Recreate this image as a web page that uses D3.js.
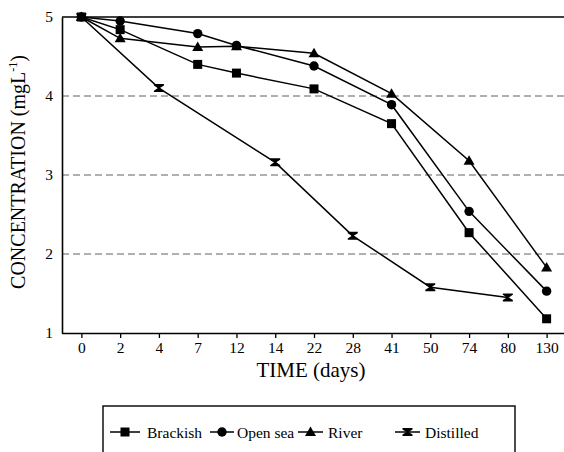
<!DOCTYPE html>
<html>
<head>
<meta charset="utf-8">
<script src="https://cdn.jsdelivr.net/npm/d3@7"></script>
<style>
  body { margin: 0; background: #fff; }
  svg { display: block; }
</style>
</head>
<body>
<svg id="chart" width="564" height="452"></svg>
<script>
// ---- data ----
const days = ["0", "2", "4", "7", "12", "14", "22", "28", "41", "50", "74", "80", "130"];
const yTicks = [1, 2, 3, 4, 5];
const gridValues = [2, 3, 4];
const seriesNames = ["Brackish", "Open sea", "River", "Distilled"];
// values aligned with days; null = not measured
const brackish  = [5.00, 4.84, null, 4.40, 4.29, null, 4.09, null, 3.65, null, 2.27, null, 1.18];
const openSea   = [5.00, 4.95, null, 4.79, 4.64, null, 4.38, null, 3.89, null, 2.54, null, 1.53];
const river     = [5.00, 4.73, null, 4.62, 4.63, null, 4.54, null, 4.03, null, 3.18, null, 1.83];
const distilled = [5.00, null, 4.10, null, null, 3.16, null, 2.23, null, 1.58, null, 1.45, null];
const xLabel = "TIME (days)";

const series = [
  { name: seriesNames[0], values: brackish,  shape: "square" },
  { name: seriesNames[1], values: openSea,   shape: "circle" },
  { name: seriesNames[2], values: river,     shape: "triangle" },
  { name: seriesNames[3], values: distilled, shape: "hourglass" }
];

// ---- layout ----
const FONT = "Liberation Serif, Times New Roman, serif";
const svg = d3.select("#chart");
const mLeft = 62, mRight = 566, mTop = 17, mBottom = 333;

const x = d3.scalePoint().domain(days).range([mLeft, mRight]).padding(0.5);
const y = d3.scaleLinear().domain([1, 5]).range([mBottom, mTop]);

// grid lines
svg.append("g").selectAll("line").data(gridValues).join("line")
  .attr("x1", mLeft).attr("x2", 564)
  .attr("y1", d => y(d)).attr("y2", d => y(d))
  .attr("stroke", "#606060").attr("stroke-width", 1)
  .attr("stroke-dasharray", "7,4");

// top frame line
svg.append("line")
  .attr("x1", mLeft).attr("x2", 564).attr("y1", y(5)).attr("y2", y(5))
  .attr("stroke", "#000").attr("stroke-width", 1.6);

// axes
const xAxis = svg.append("g").attr("transform", `translate(0,${mBottom})`)
  .call(d3.axisBottom(x).tickSize(5).tickPadding(4).tickSizeOuter(0))
  .attr("font-family", FONT).attr("font-size", 15.5);
xAxis.select(".domain").attr("d", `M${mLeft},0.5H564`).attr("stroke-width", 1.6);
xAxis.selectAll(".tick line").attr("stroke-width", 1.3);

const yAxis = svg.append("g").attr("transform", `translate(${mLeft},0)`)
  .call(d3.axisLeft(y).tickValues(yTicks).tickFormat(d3.format("d")).tickSize(0).tickPadding(9))
  .attr("font-family", FONT).attr("font-size", 15.5);
yAxis.select(".domain").attr("stroke-width", 1.6);

// axis titles
svg.append("text").attr("x", 311).attr("y", 377).attr("font-family", FONT)
  .attr("text-anchor", "middle").attr("font-size", 21).text(xLabel);

const yl = svg.append("text")
  .attr("transform", "translate(25,172) rotate(-90)").attr("font-family", FONT)
  .attr("text-anchor", "middle").attr("font-size", 20);
yl.append("tspan").text("CONCENTRATION (mgL");
yl.append("tspan").attr("font-size", 12).attr("dy", -8).text("-1");
yl.append("tspan").attr("dy", 8).text(")");

// symbols
function drawSymbol(g, shape, cx, cy) {
  if (shape === "square") {
    g.append("rect").attr("x", cx - 4.5).attr("y", cy - 4.5).attr("width", 9).attr("height", 9).attr("fill", "#000");
  } else if (shape === "circle") {
    g.append("circle").attr("cx", cx).attr("cy", cy).attr("r", 4.7).attr("fill", "#000");
  } else if (shape === "triangle") {
    g.append("path").attr("d", `M${cx},${cy - 5.5}L${cx + 5.5},${cy + 4}L${cx - 5.5},${cy + 4}Z`).attr("fill", "#000");
  } else {
    g.append("path").attr("d",
      `M${cx - 5},${cy - 4}L${cx + 5},${cy - 4}L${cx + 5},${cy - 2.6}L${cx + 1},${cy}L${cx + 5},${cy + 2.6}L${cx + 5},${cy + 4}` +
      `L${cx - 5},${cy + 4}L${cx - 5},${cy + 2.6}L${cx - 1},${cy}L${cx - 5},${cy - 2.6}Z`).attr("fill", "#000");
  }
}

const line = d3.line().x(d => x(d.day)).y(d => y(d.v));
series.forEach(s => {
  const pts = days.map((d, i) => ({ day: d, v: s.values[i] })).filter(p => p.v !== null);
  svg.append("path").datum(pts).attr("d", line)
    .attr("fill", "none").attr("stroke", "#000").attr("stroke-width", 1.5);
  const g = svg.append("g");
  pts.forEach(p => drawSymbol(g, s.shape, x(p.day), y(p.v)));
});

// legend
svg.append("rect").attr("x", 103).attr("y", 406).attr("width", 412).attr("height", 60)
  .attr("fill", "none").attr("stroke", "#000").attr("stroke-width", 1.4);
const legendPos = [
  { x1: 110, x2: 140, tx: 147 },
  { x1: 210, x2: 234, tx: 237 },
  { x1: 298, x2: 323, tx: 328 },
  { x1: 395, x2: 420, tx: 425 }
];
const ly = 432;
series.forEach((s, i) => {
  const p = legendPos[i];
  const g = svg.append("g");
  g.append("line").attr("x1", p.x1).attr("x2", p.x2).attr("y1", ly).attr("y2", ly)
    .attr("stroke", "#000").attr("stroke-width", 1.5);
  drawSymbol(g, s.shape, (p.x1 + p.x2) / 2, ly);
  g.append("text").attr("x", p.tx).attr("y", ly + 5.5).attr("font-family", FONT)
    .attr("font-size", 15.5).text(s.name);
});
</script>
</body>
</html>
